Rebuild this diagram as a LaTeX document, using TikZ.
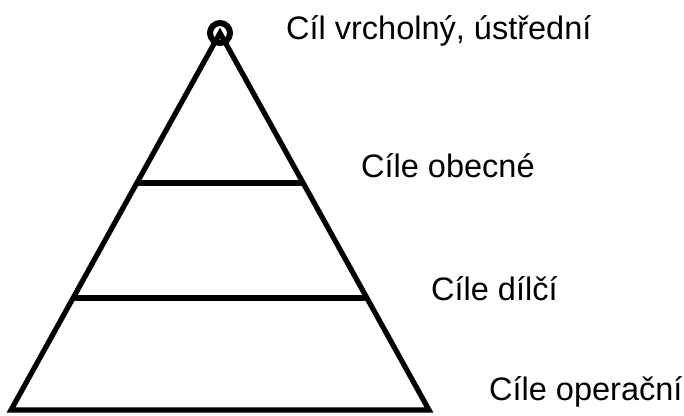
\documentclass[tikz,border=0pt]{standalone}
\usepackage{fontspec}
\setmainfont{Liberation Sans}
\usetikzlibrary{calc}
\begin{document}
\begin{tikzpicture}[x=1pt,y=-1pt,
  edge/.style={line width=5.2pt, line join=miter},
  tier/.style={anchor=base west, inner sep=0pt, font=\fontsize{32.5}{38}\selectfont}]
\useasboundingbox (0,0) rectangle (684,415);
% pyramid corners
\coordinate (top) at (220,33);
\coordinate (bl) at (11,410);
\coordinate (br) at (429,410);
% tier dividers on the sides
\coordinate (l1) at ($(top)!0.398!(bl)$);
\coordinate (r1) at ($(top)!0.398!(br)$);
\coordinate (l2) at ($(top)!0.703!(bl)$);
\coordinate (r2) at ($(top)!0.703!(br)$);
\draw[edge] (top) -- (bl) -- (br) -- cycle;
\draw[edge] (l1) -- (r1);
\draw[edge] (l2) -- (r2);
\draw[line width=6pt] (top) circle[radius=10];
% labels of the tiers
\node[tier] (t0) at (286,39) {Cíl vrcholný, ústřední};
\node[tier] (t1) at (361,177) {Cíle obecné};
\node[tier] (t2) at (431,300) {Cíle dílčí};
\node[tier] (t3) at (489,400) {Cíle operační};
\end{tikzpicture}
\end{document}
